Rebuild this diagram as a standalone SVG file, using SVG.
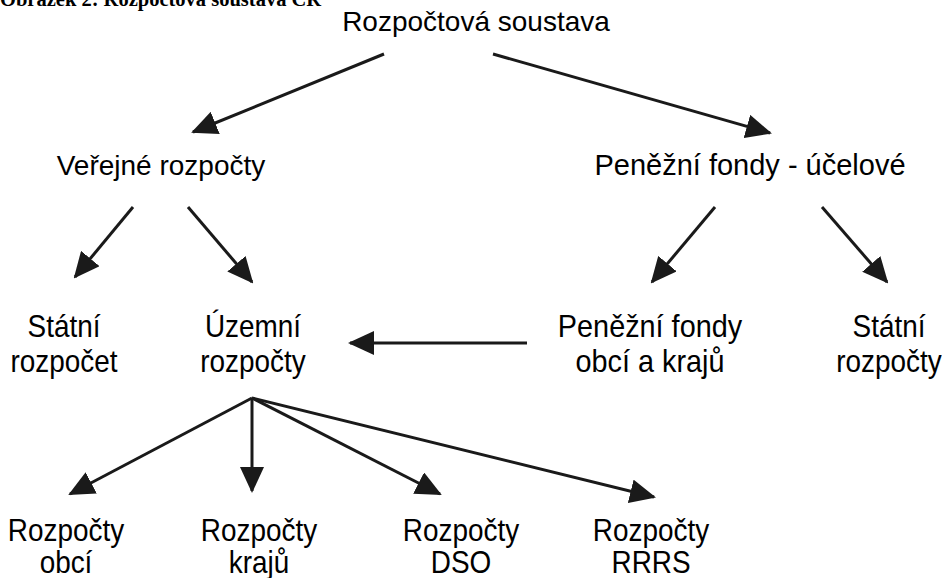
<svg xmlns="http://www.w3.org/2000/svg" width="942" height="578" viewBox="0 0 942 578">
<style>
.t{font-family:"Liberation Sans",Arial,sans-serif;font-size:28px;fill:#000;text-anchor:middle}
.n{font-family:"Liberation Sans",Arial,sans-serif;font-size:31px;fill:#000;text-anchor:middle}
.c{stroke:#1a1a1a;stroke-width:3;fill:none;marker-end:url(#ah)}
.ttl{font-family:"Liberation Serif","Times New Roman",serif;font-size:20.5px;font-weight:bold;fill:#000}
</style>
<defs>
<marker id="ah" markerUnits="userSpaceOnUse" markerWidth="26" markerHeight="24" refX="24" refY="12" orient="auto" viewBox="0 0 26 24">
<path d="M0,0 L26,12 L0,24 z" fill="#1a1a1a"/>
</marker>
</defs>
<text class="ttl" x="0" y="6">Obrázek 2: Rozpočtová soustava ČR</text>
<g id="n-root"><text class="t" x="476" y="31">Rozpočtová soustava</text></g>
<g id="n-verejne"><text class="t" x="161" y="175">Veřejné rozpočty</text></g>
<g id="n-penezni"><text class="t" x="750" y="175" style="font-size:29px">Peněžní fondy - účelové</text></g>
<g id="n-statni1"><text class="n" transform="translate(64,337) scale(0.9,1)">Státní</text><text class="n" transform="translate(64,372) scale(0.9,1)">rozpočet</text></g>
<g id="n-uzemni"><text class="n" transform="translate(253,337) scale(0.9,1)">Územní</text><text class="n" transform="translate(253,372) scale(0.9,1)">rozpočty</text></g>
<g id="n-pfok"><text class="n" transform="translate(650,337) scale(0.93,1)">Peněžní fondy</text><text class="n" transform="translate(650,372) scale(0.93,1)">obcí a krajů</text></g>
<g id="n-statni2"><text class="n" transform="translate(889,337) scale(0.9,1)">Státní</text><text class="n" transform="translate(889,372) scale(0.9,1)">rozpočty</text></g>
<g id="n-obci"><text class="n" transform="translate(66,541) scale(0.9,1)">Rozpočty</text><text class="n" transform="translate(66,573) scale(0.9,1)">obcí</text></g>
<g id="n-kraju"><text class="n" transform="translate(259,541) scale(0.9,1)">Rozpočty</text><text class="n" transform="translate(259,573) scale(0.9,1)">krajů</text></g>
<g id="n-dso"><text class="n" transform="translate(461,541) scale(0.9,1)">Rozpočty</text><text class="n" transform="translate(461,573) scale(0.9,1)">DSO</text></g>
<g id="n-rrrs"><text class="n" transform="translate(651,541) scale(0.9,1)">Rozpočty</text><text class="n" transform="translate(651,573) scale(0.9,1)">RRRS</text></g>
<g id="connectors">
<line class="c" x1="384" y1="54" x2="193" y2="132"/>
<line class="c" x1="493" y1="54" x2="770" y2="133"/>
<line class="c" x1="133" y1="207" x2="75" y2="277"/>
<line class="c" x1="188" y1="207" x2="252" y2="282"/>
<line class="c" x1="715" y1="207" x2="652" y2="282"/>
<line class="c" x1="822" y1="207" x2="887" y2="282"/>
<line class="c" x1="527" y1="343" x2="350" y2="343"/>
<line class="c" x1="252" y1="398" x2="70" y2="494"/>
<line class="c" x1="252" y1="398" x2="252" y2="491"/>
<line class="c" x1="252" y1="398" x2="440" y2="494"/>
<line class="c" x1="252" y1="398" x2="654" y2="497"/>
</g>
</svg>
